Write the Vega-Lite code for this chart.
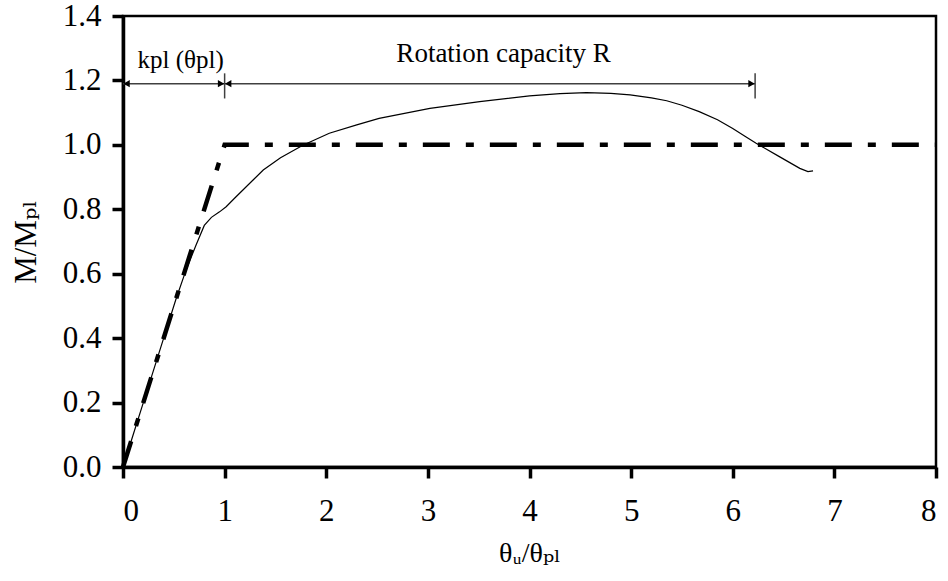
{
  "$schema": "https://vega.github.io/schema/vega-lite/v6.json",
  "width": 813,
  "height": 451,
  "autosize": "none",
  "padding": {"left": 123, "top": 16, "right": 12, "bottom": 114},
  "background": "white",
  "config": {
    "view": {"stroke": "black", "strokeWidth": 2.5},
    "axis": {
      "labelFont": "Liberation Serif, Times New Roman, DejaVu Serif, serif",
      "titleFont": "Liberation Serif, Times New Roman, DejaVu Serif, serif",
      "labelColor": "black",
      "titleColor": "black",
      "labelFontSize": 31,
      "titleFontSize": 29,
      "titleFontWeight": "normal",
      "domainColor": "black",
      "domainWidth": 3.5,
      "tickColor": "black",
      "tickWidth": 3.5,
      "tickSize": 11,
      "grid": false
    }
  },
  "datasets": {
    "curve": [
      {"x": 0, "y": 0}, {"x": 0.1, "y": 0.1}, {"x": 0.2, "y": 0.2}, {"x": 0.3, "y": 0.3},
      {"x": 0.425, "y": 0.425}, {"x": 0.52, "y": 0.52}, {"x": 0.62, "y": 0.611},
      {"x": 0.72, "y": 0.69}, {"x": 0.8, "y": 0.75}, {"x": 0.87, "y": 0.775},
      {"x": 0.95, "y": 0.792}, {"x": 1.015, "y": 0.808}, {"x": 1.1, "y": 0.835},
      {"x": 1.2, "y": 0.866}, {"x": 1.28, "y": 0.891}, {"x": 1.38, "y": 0.922},
      {"x": 1.55, "y": 0.96}, {"x": 1.77, "y": 0.999}, {"x": 2.03, "y": 1.036},
      {"x": 2.3, "y": 1.062}, {"x": 2.52, "y": 1.082}, {"x": 3.02, "y": 1.113},
      {"x": 3.51, "y": 1.134}, {"x": 4.0, "y": 1.152}, {"x": 4.3, "y": 1.159},
      {"x": 4.56, "y": 1.162}, {"x": 4.8, "y": 1.16}, {"x": 4.99, "y": 1.155},
      {"x": 5.2, "y": 1.146}, {"x": 5.35, "y": 1.137}, {"x": 5.5, "y": 1.123},
      {"x": 5.67, "y": 1.103}, {"x": 5.85, "y": 1.078}, {"x": 6.0, "y": 1.051},
      {"x": 6.12, "y": 1.027}, {"x": 6.23, "y": 1.005}, {"x": 6.45, "y": 0.965},
      {"x": 6.66, "y": 0.927}, {"x": 6.74, "y": 0.917}, {"x": 6.79, "y": 0.919}
    ],
    "bilinear": [{"x": 0, "y": 0}, {"x": 1, "y": 1}, {"x": 8, "y": 1}],
    "arrows": [
      {"x": 0, "x2": 1, "y": 1.19},
      {"x": 1, "x2": 6.22, "y": 1.19}
    ],
    "heads": [
      {"x": 0.035, "y": 1.19, "shape": "triangle-left"},
      {"x": 0.965, "y": 1.19, "shape": "triangle-right"},
      {"x": 1.035, "y": 1.19, "shape": "triangle-left"},
      {"x": 6.185, "y": 1.19, "shape": "triangle-right"}
    ],
    "ends": [
      {"x": 1, "y": 1.144, "y2": 1.222},
      {"x": 6.22, "y": 1.144, "y2": 1.222}
    ],
    "labels": [
      {"x": 0.567, "y": 1.238, "text": "kpl (θpl)", "size": 25},
      {"x": 3.745, "y": 1.258, "text": "Rotation capacity R", "size": 27}
    ]
  },
  "layer": [
    {
      "data": {"name": "bilinear"},
      "mark": {"type": "line", "color": "black", "strokeWidth": 4.5, "strokeDash": [27, 16, 8, 16], "strokeCap": "butt"},
      "encoding": {
        "x": {"field": "x", "type": "quantitative", "scale": {"domain": [0, 8], "nice": false},
              "axis": {"title": "θᵤ/θₚₗ", "tickCount": 8, "labelPadding": 18, "titlePadding": 13, "titleFontSize": 28}},
        "y": {"field": "y", "type": "quantitative", "scale": {"domain": [0, 1.4], "nice": false},
              "axis": {"title": "M/Mₚₗ", "values": [0, 0.2, 0.4, 0.6, 0.8, 1.0, 1.2, 1.4], "format": ".1f", "labelPadding": 11, "titlePadding": 20, "titleFontSize": 31}}
      }
    },
    {
      "data": {"name": "curve"},
      "mark": {"type": "line", "color": "black", "strokeWidth": 1.2},
      "encoding": {
        "x": {"field": "x", "type": "quantitative"},
        "y": {"field": "y", "type": "quantitative"}
      }
    },
    {
      "data": {"name": "arrows"},
      "mark": {"type": "rule", "color": "#404040", "strokeWidth": 1.5},
      "encoding": {
        "x": {"field": "x", "type": "quantitative"},
        "x2": {"field": "x2"},
        "y": {"field": "y", "type": "quantitative"}
      }
    },
    {
      "data": {"name": "ends"},
      "mark": {"type": "rule", "color": "#404040", "strokeWidth": 1.5},
      "encoding": {
        "x": {"field": "x", "type": "quantitative"},
        "y": {"field": "y", "type": "quantitative"},
        "y2": {"field": "y2"}
      }
    },
    {
      "data": {"name": "heads"},
      "mark": {"type": "point", "filled": true, "color": "black", "size": 55, "opacity": 1},
      "encoding": {
        "x": {"field": "x", "type": "quantitative"},
        "y": {"field": "y", "type": "quantitative"},
        "shape": {"field": "shape", "type": "nominal", "scale": null, "legend": null}
      }
    },
    {
      "data": {"name": "labels"},
      "mark": {"type": "text", "font": "Liberation Serif, Times New Roman, DejaVu Serif, serif", "color": "black", "baseline": "alphabetic", "align": "center"},
      "encoding": {
        "x": {"field": "x", "type": "quantitative"},
        "y": {"field": "y", "type": "quantitative"},
        "text": {"field": "text"},
        "size": {"field": "size", "type": "quantitative", "scale": null, "legend": null}
      }
    }
  ]
}
